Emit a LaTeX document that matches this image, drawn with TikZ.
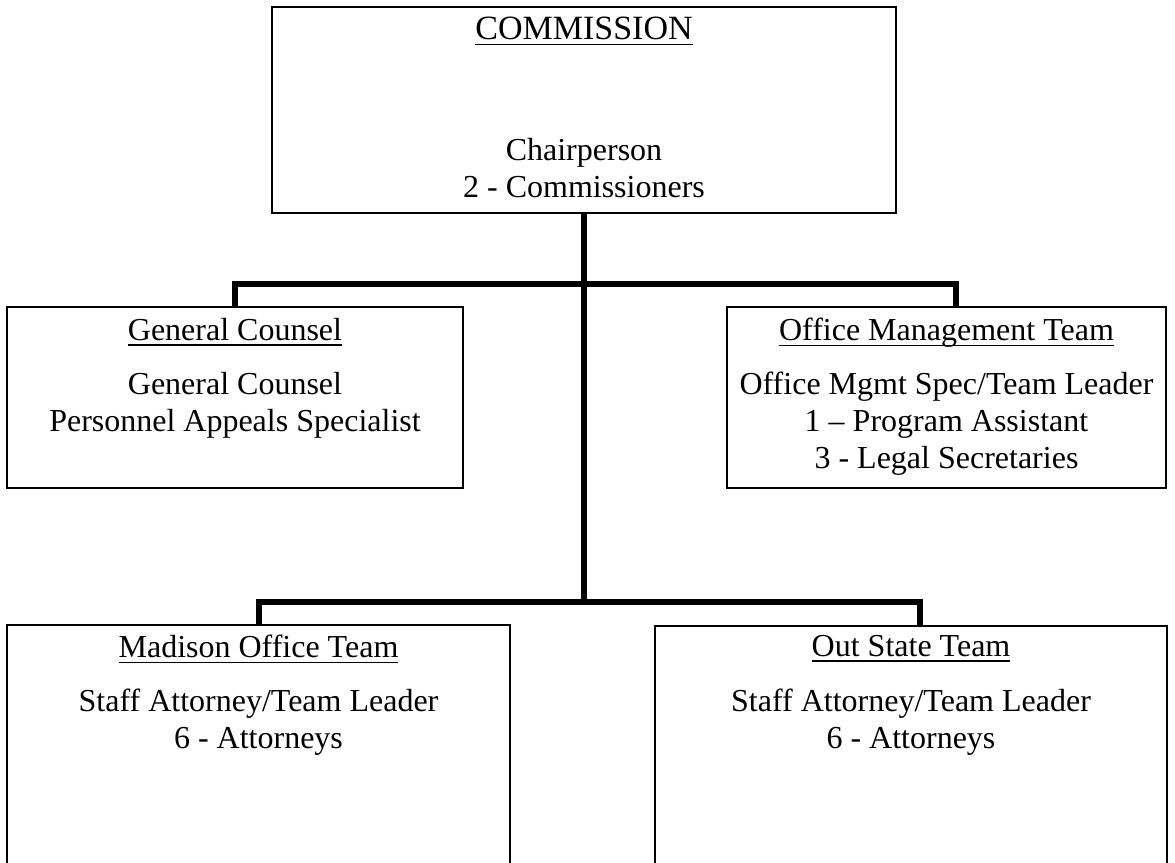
\documentclass[tikz,border=0pt]{standalone}
\usepackage{fontspec}
\setmainfont{Liberation Serif}
\newcommand\myul[1]{\setbox0\hbox{#1}\rlap{\rule[-4.2pt]{\wd0}{1.2pt}}\box0}
\tikzset{
  box/.style={draw=black, line width=1.1pt, inner sep=0pt},
  conn/.style={draw=black, line width=4.5pt, line join=miter},
  ttl/.style={anchor=north, inner sep=0pt, font=\fontsize{24}{27.75}\selectfont},
  body/.style={anchor=north, inner sep=0pt, align=center, font=\fontsize{24}{27.75}\selectfont},
}
\begin{document}
\begin{tikzpicture}[x=0.75pt,y=-0.75pt]
\clip (0,0) rectangle (1175,863);
\fill[white] (0,0) rectangle (1175,863);
% boxes
\node[box, minimum width=468pt, minimum height=154.5pt] (comm) at (584,110) {};
\node[box, minimum width=342pt, minimum height=135.75pt] (gc) at (235,397.5) {};
\node[box, minimum width=329.25pt, minimum height=135.75pt] (om) at (946.5,397.5) {};
\node[box, minimum width=377.25pt, minimum height=183.75pt] (mad) at (258.5,747.5) {};
\node[box, minimum width=384pt, minimum height=183pt] (out) at (911,748) {};
% junctions
\coordinate (j1) at (584,284);
\coordinate (j2) at (584,602);
% connectors
\draw[conn] (comm.south) -- (j2);
\draw[conn] (gc.north) |- (j1) -| ([xshift=7.1pt]om.north);
\draw[conn] (mad.north) |- (j2) -| ([xshift=6.75pt]out.north);
% texts
\node[ttl, font=\fontsize{25.5}{30}\selectfont] (commT) at (584,17) {\myul{COMMISSION}};
\node[body] (commB) at (584,138) {Chairperson\\2 - Commissioners};
\node[ttl] (gcT) at (235,318) {\myul{General Counsel}};
\node[body] (gcB) at (235,372) {General Counsel\\Personnel Appeals Specialist};
\node[ttl] (omT) at (946.5,318) {\myul{Office Management Team}};
\node[body] (omB) at (946.5,372) {Office Mgmt Spec/Team Leader\\1 – Program Assistant\\3 - Legal Secretaries};
\node[ttl] (madT) at (258.5,635) {\myul{Madison Office Team}};
\node[body] (madB) at (258.5,689) {Staff Attorney/Team Leader\\6 - Attorneys};
\node[ttl] (outT) at (911,635) {\myul{Out State Team}};
\node[body] (outB) at (911,689) {Staff Attorney/Team Leader\\6 - Attorneys};
\end{tikzpicture}
\end{document}
